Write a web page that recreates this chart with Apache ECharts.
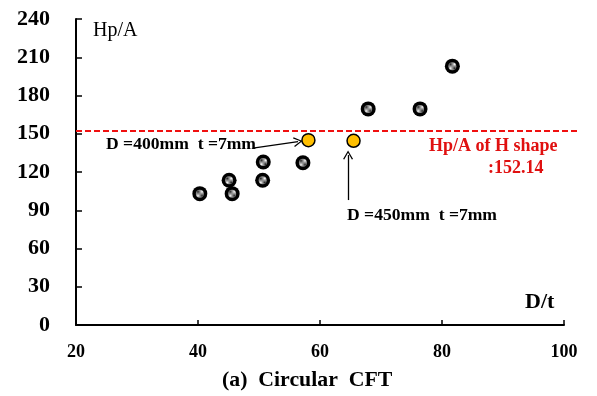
<!DOCTYPE html>
<html>
<head>
<meta charset="utf-8">
<script src="https://cdn.jsdelivr.net/npm/echarts@6/dist/echarts.min.js"></script>
<style>
html,body{margin:0;padding:0;background:#fff;}
#chart{width:597px;height:396px;}
</style>
</head>
<body>
<div id="chart"></div>
<script>
var cftX = [40.3, 45.6, 45.1, 50.6, 50.7, 57.2, 67.9, 76.4, 81.7];
var cftY = [103, 103, 113.5, 113.5, 127.8, 127.3, 169.5, 169.5, 203];
var markedX = [58.1, 65.5];
var markedY = [145, 144.5];
var hShapeValue = 152.14;
var hShapeRange = [20, 102.1];
var xTicks = [20, 40, 60, 80, 100];
var yTicks = [0, 30, 60, 90, 120, 150, 180, 210, 240];
// arrows: [from, to] in data units
var arrow400 = [[49.0, 138.8], [56.4, 143.9]];
var arrow450 = [[64.6, 98], [64.6, 133.3]];

function pairs(xs, ys){
	var out=[];
	for(var i=0;i<xs.length;i++){ out.push([xs[i], ys[i]]); }
	return out;
}

// speckled fill for the black markers
var pat = document.createElement('canvas');
pat.width = 2; pat.height = 2;
var pctx = pat.getContext('2d');
pctx.fillStyle = '#fff'; pctx.fillRect(0,0,2,2);
pctx.fillStyle = '#222'; pctx.fillRect(0,0,1,1); pctx.fillRect(1,1,1,1);

var font = '"Liberation Serif", "Times New Roman", serif';
var chevron = 'path://M0,10 L5,0 L10,10 L8.8,10.8 L5,2.6 L1.2,10.8 Z';

var myChart = echarts.init(document.getElementById('chart'));
var option = {
	backgroundColor: '#fff',
	animation: false,
	grid: [
		{ left: 76, right: 33, top: 19, bottom: 71 },
		// same height, reaches a bit further right for the H shape line
		{ left: 76, right: 597 - 577, top: 19, bottom: 71 }
	],
	xAxis: [{
		type: 'value', min: xTicks[0], max: xTicks[xTicks.length-1], interval: 20,
		splitLine: { show: false },
		axisLine: { lineStyle: { color: '#000', width: 2 } },
		axisTick: { inside: true, length: 5, lineStyle: { color: '#000', width: 1.5 } },
		axisLabel: { color: '#000', fontFamily: font, fontWeight: 'bold', fontSize: 18, margin: 18 }
	}, {
		type: 'value', gridIndex: 1, min: hShapeRange[0], max: hShapeRange[1], show: false
	}],
	yAxis: [{
		type: 'value', min: yTicks[0], max: yTicks[yTicks.length-1], interval: 30,
		splitLine: { show: false },
		axisLine: { lineStyle: { color: '#000', width: 2 } },
		axisTick: { inside: true, length: 6, lineStyle: { color: '#000', width: 1.5 } },
		axisLabel: { color: '#000', fontFamily: font, fontWeight: 'bold', fontSize: 22, margin: 26 }
	}, {
		type: 'value', gridIndex: 1, min: yTicks[0], max: yTicks[yTicks.length-1], show: false
	}],
	series: [
		{
			type: 'line', symbol: 'none', xAxisIndex: 1, yAxisIndex: 1,
			data: [[hShapeRange[0], hShapeValue], [hShapeRange[1], hShapeValue]],
			lineStyle: { color: '#f01010', width: 2, type: [6, 3] },
			z: 1
		},
		{
			type: 'scatter', symbol: 'circle', symbolSize: 15,
			data: pairs(cftX, cftY),
			itemStyle: { color: '#000', opacity: 1 },
			z: 3
		},
		{
			type: 'scatter', symbol: 'circle', symbolSize: 8,
			data: pairs(cftX, cftY),
			itemStyle: { color: { image: pat, repeat: 'repeat' }, opacity: 1 },
			z: 4
		},
		{
			type: 'scatter', symbol: 'circle', symbolSize: 13,
			data: pairs(markedX, markedY),
			itemStyle: { color: '#ffbf00', borderColor: '#000', borderWidth: 1.5, opacity: 1 },
			z: 4,
			markLine: {
				silent: true, animation: false,
				symbol: ['none', chevron], symbolSize: [10, 9],
				label: { show: false },
				lineStyle: { color: '#000', width: 1.3, type: 'solid' },
				data: [
					[{ coord: arrow400[0] }, { coord: arrow400[1] }],
					[{ coord: arrow450[0] }, { coord: arrow450[1] }]
				]
			}
		}
	],
	graphic: [
		{ type: 'text', left: 93, top: 21, style: { text: 'Hp/A', fill: '#000', font: '20px ' + font } },
		{ type: 'text', left: 525, top: 291, style: { text: 'D/t', fill: '#000', font: 'bold 22px ' + font } },
		{ type: 'text', left: 106, top: 135, style: { text: 'D =400mm  t =7mm', fill: '#000', font: 'bold 17.6px ' + font } },
		{ type: 'text', left: 347, top: 206, style: { text: 'D =450mm  t =7mm', fill: '#000', font: 'bold 17.6px ' + font } },
		{ type: 'text', left: 429, top: 137, style: { text: 'Hp/A of H shape', fill: '#e01010', font: 'bold 18px ' + font } },
		{ type: 'text', left: 488, top: 159, style: { text: ':' + hShapeValue, fill: '#e01010', font: 'bold 18px ' + font } },
		{ type: 'text', left: 222, top: 369, style: { text: '(a)  Circular  CFT', fill: '#000', font: 'bold 21.8px ' + font } }
	]
};
myChart.setOption(option, true);
</script>
</body>
</html>
